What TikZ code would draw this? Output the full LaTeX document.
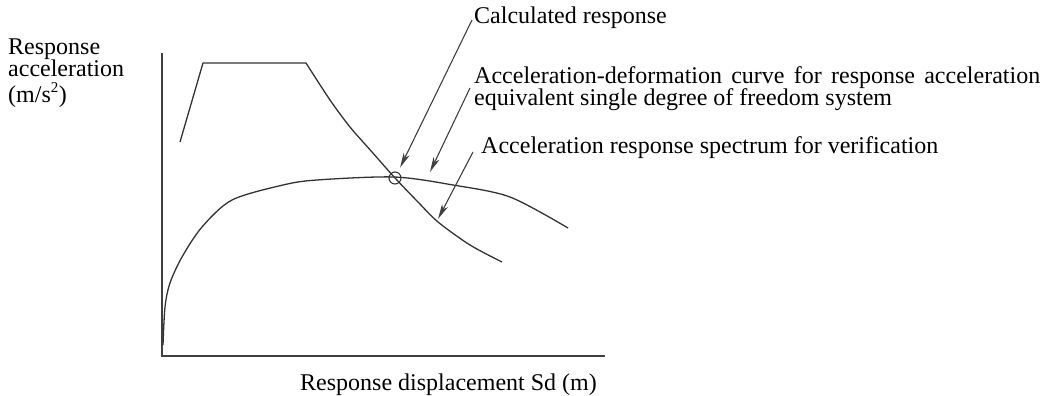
\documentclass[tikz,border=0pt]{standalone}
\usepackage{fontspec}
\setmainfont{Liberation Serif}
\usetikzlibrary{arrows.meta}
\begin{document}
\begin{tikzpicture}[x=1pt,y=-1pt,
  lbl/.style={inner sep=0pt,anchor=base west,font=\fontsize{24}{24}\selectfont},
  curve/.style={line width=1.3pt,draw=black!80,line join=round},
  axis/.style={line width=1.4pt,draw=black!75},
  arr/.style={line width=1.1pt,draw=black!75,-{Stealth[length=15pt,width=6.5pt,inset=4pt]}}]
\path[use as bounding box] (0,0) rectangle (1052,396);
% axes
\coordinate (ytop) at (162,53);
\coordinate (orig) at (162,356);
\coordinate (xend) at (605,356);
\draw[axis] (ytop) -- (orig) -- (xend);
% spectrum
\draw[curve] (180,142) -- (203,63) -- (306,63)
  plot[smooth,tension=0.5] coordinates {(306,63) (330,100) (350,127) (372,152) (395,178) (418,202) (438,222) (470,245) (502,262)};
% capacity curve
\draw[curve] plot[smooth,tension=0.5] coordinates {(163,345) (165,307) (170,283) (182,257) (202,227) (232,200) (283,185) (317,180) (394,177) (453,185) (510,197) (568,228)};
% calculated point
\node[circle,draw=black!80,line width=1.1pt,minimum size=12pt,inner sep=0pt] (cp) at (395,178) {};
% labels
\node[lbl] (ylab1) at (8,55) {Response};
\node[lbl] (ylab2) at (8,77) {acceleration};
\node[lbl] (ylab3) at (8,102) {(m/s\textsuperscript{\fontsize{15}{15}\selectfont 2})};
\node[lbl] (xlab) at (300,390) {Response displacement Sd (m)};
\node[lbl] (calc) at (474,24) {Calculated response};
\node[lbl] (adc1) at (474,83) {\makebox[566pt][s]{Acceleration-deformation curve for response acceleration}};
\node[lbl] (adc2) at (474,106) {equivalent single degree of freedom system};
\node[lbl] (spec) at (481,153) {Acceleration response spectrum for verification};
% arrows
\coordinate (a1t) at (472,20);
\coordinate (a2t) at (470,88);
\coordinate (a2h) at (430,172);
\coordinate (a3t) at (473,152);
\coordinate (a3h) at (438,219);
\draw[arr,shorten >=5pt] (a1t) -- (cp);
\draw[arr] (a2t) -- (a2h);
\draw[arr] (a3t) -- (a3h);
\end{tikzpicture}
\end{document}
